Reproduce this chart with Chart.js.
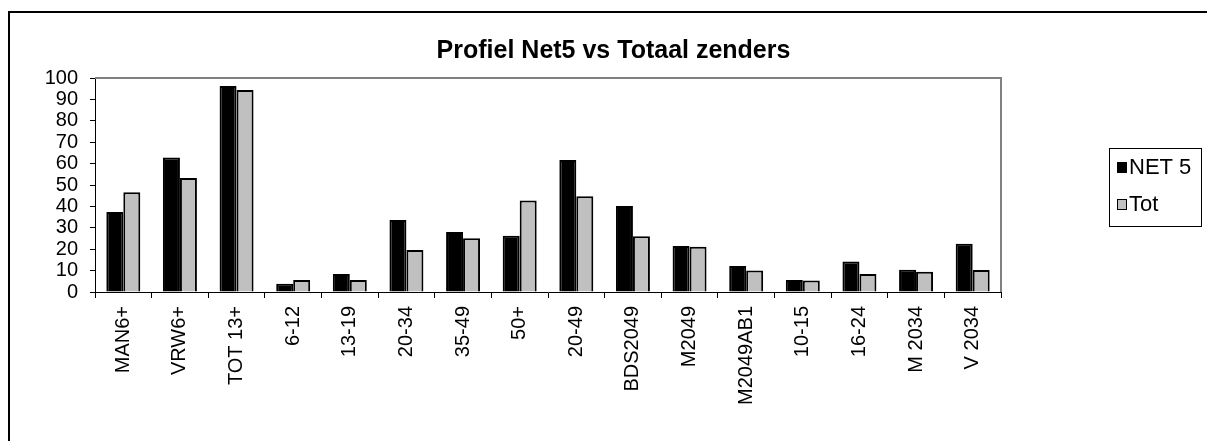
<!DOCTYPE html>
<html lang="nl">
<head>
    <meta charset="UTF-8">
    <title>Profiel Net5 vs Totaal zenders</title>
    <style>
        body { margin: 0; background: #fff; }
    </style>
</head>
<body>
    <div>
        <canvas id="myChart" width="1207" height="441"></canvas>
    </div>

    <script src="https://cdn.jsdelivr.net/npm/chart.js"></script>

    <script>
        const ctx = document.getElementById('myChart');

        // doelgroepen op de x-as
        const categories = ['MAN6+', 'VRW6+', 'TOT 13+', '6-12', '13-19', '20-34', '35-49', '50+',
            '20-49', 'BDS2049', 'M2049', 'M2049AB1', '10-15', '16-24', 'M 2034', 'V 2034'];
        const net5 = [37.4, 62.8, 96.3, 3.9, 8.4, 33.6, 28.0, 26.3, 61.7, 40.2, 21.5, 12.1, 5.6, 14.2, 10.4, 22.6];
        const tot = [46.6, 53.3, 94.4, 5.6, 5.6, 19.6, 25.1, 42.8, 44.7, 26.0, 21.2, 10.1, 5.4, 8.4, 9.5, 10.3];
        const yTicks = [0, 10, 20, 30, 40, 50, 60, 70, 80, 90, 100];

        const font = 'Liberation Sans, Arial, sans-serif';

        // kader om de grafiek, grijze rand van plotgebied en legenda met kader
        const frame = {
            id: 'frame',
            beforeDraw(chart) {
                const c = chart.ctx;
                c.save();
                c.fillStyle = '#fff';
                c.fillRect(0, 0, chart.width, chart.height);
                c.strokeStyle = '#000';
                c.lineWidth = 2;
                c.beginPath();
                c.moveTo(9, chart.height);
                c.lineTo(9, 12);
                c.lineTo(chart.width, 12);
                c.stroke();
                c.restore();
            },
            beforeDatasetsDraw(chart) {
                const a = chart.chartArea;
                const c = chart.ctx;
                c.save();
                c.strokeStyle = '#808080';
                c.lineWidth = 2;
                c.beginPath();
                c.moveTo(a.left, a.top);
                c.lineTo(a.right, a.top);
                c.lineTo(a.right, a.bottom);
                c.stroke();
                c.restore();
            },
            afterDraw(chart) {
                const c = chart.ctx;
                const x = 1109, y = 148, w = 92, h = 78;
                c.save();
                c.strokeStyle = '#000';
                c.lineWidth = 1;
                c.strokeRect(x + 0.5, y + 0.5, w, h);
                c.font = '22px ' + font;
                c.textBaseline = 'middle';
                chart.data.datasets.forEach((ds, i) => {
                    const cy = y + 19 + i * 37;
                    c.fillStyle = ds.backgroundColor;
                    c.fillRect(x + 8, cy - 5, 10, 11);
                    c.strokeStyle = '#000';
                    c.lineWidth = 1;
                    c.strokeRect(x + 8.5, cy - 4.5, 9, 10);
                    c.fillStyle = '#000';
                    c.fillText(ds.label, x + 20, cy + 1);
                });
                c.restore();
            }
        };

        new Chart(ctx, {
            type: 'bar',
            data: {
                labels: categories,
                datasets: [{
                    label: 'NET 5',
                    data: net5,
                    backgroundColor: '#000000',
                    borderColor: '#000000',
                    borderWidth: 2,
                    categoryPercentage: 0.6,
                    barPercentage: 1.0
                }, {
                    label: 'Tot',
                    data: tot,
                    backgroundColor: '#C0C0C0',
                    borderColor: '#000000',
                    borderWidth: 2,
                    categoryPercentage: 0.6,
                    barPercentage: 1.0
                }]
            },
            options: {
                responsive: false,
                animation: false,
                layout: { padding: { left: 20, right: 0, top: 0, bottom: 0 } },
                plugins: {
                    legend: { display: false },
                    tooltip: { enabled: false },
                    title: {
                        display: true,
                        text: 'Profiel Net5 vs Totaal zenders',
                        color: '#000',
                        font: { family: font, size: 25, weight: 'bold', lineHeight: 1.2 },
                        padding: { top: 36, bottom: 12 }
                    }
                },
                scales: {
                    x: {
                        grid: { display: true, drawOnChartArea: false, drawTicks: true, tickLength: 6, color: '#000', lineWidth: 1 },
                        border: { display: true, color: '#000', width: 1 },
                        ticks: {
                            color: '#000',
                            font: { family: font, size: 20 },
                            minRotation: 90,
                            maxRotation: 90,
                            autoSkip: false,
                            padding: 8
                        },
                        afterFit: s => { s.height = 149; }
                    },
                    y: {
                        min: 0,
                        max: 100,
                        afterBuildTicks: s => { s.ticks = yTicks.map(v => ({ value: v })); },
                        grid: { display: true, drawOnChartArea: false, drawTicks: true, tickLength: 5, color: '#000' },
                        border: { display: true, color: '#000', width: 1 },
                        ticks: {
                            color: '#000',
                            font: { family: font, size: 20, lineHeight: 1.0 },
                            autoSkip: false,
                            padding: 12
                        },
                        afterFit: s => { s.width = 75; }
                    },
                    // lege as rechts: ruimte voor de legenda
                    y2: {
                        position: 'right',
                        display: true,
                        grid: { display: false },
                        border: { display: false },
                        ticks: { display: false },
                        afterFit: s => { s.width = 206; }
                    }
                }
            },
            plugins: [frame]
        });
    </script>
</body>
</html>
